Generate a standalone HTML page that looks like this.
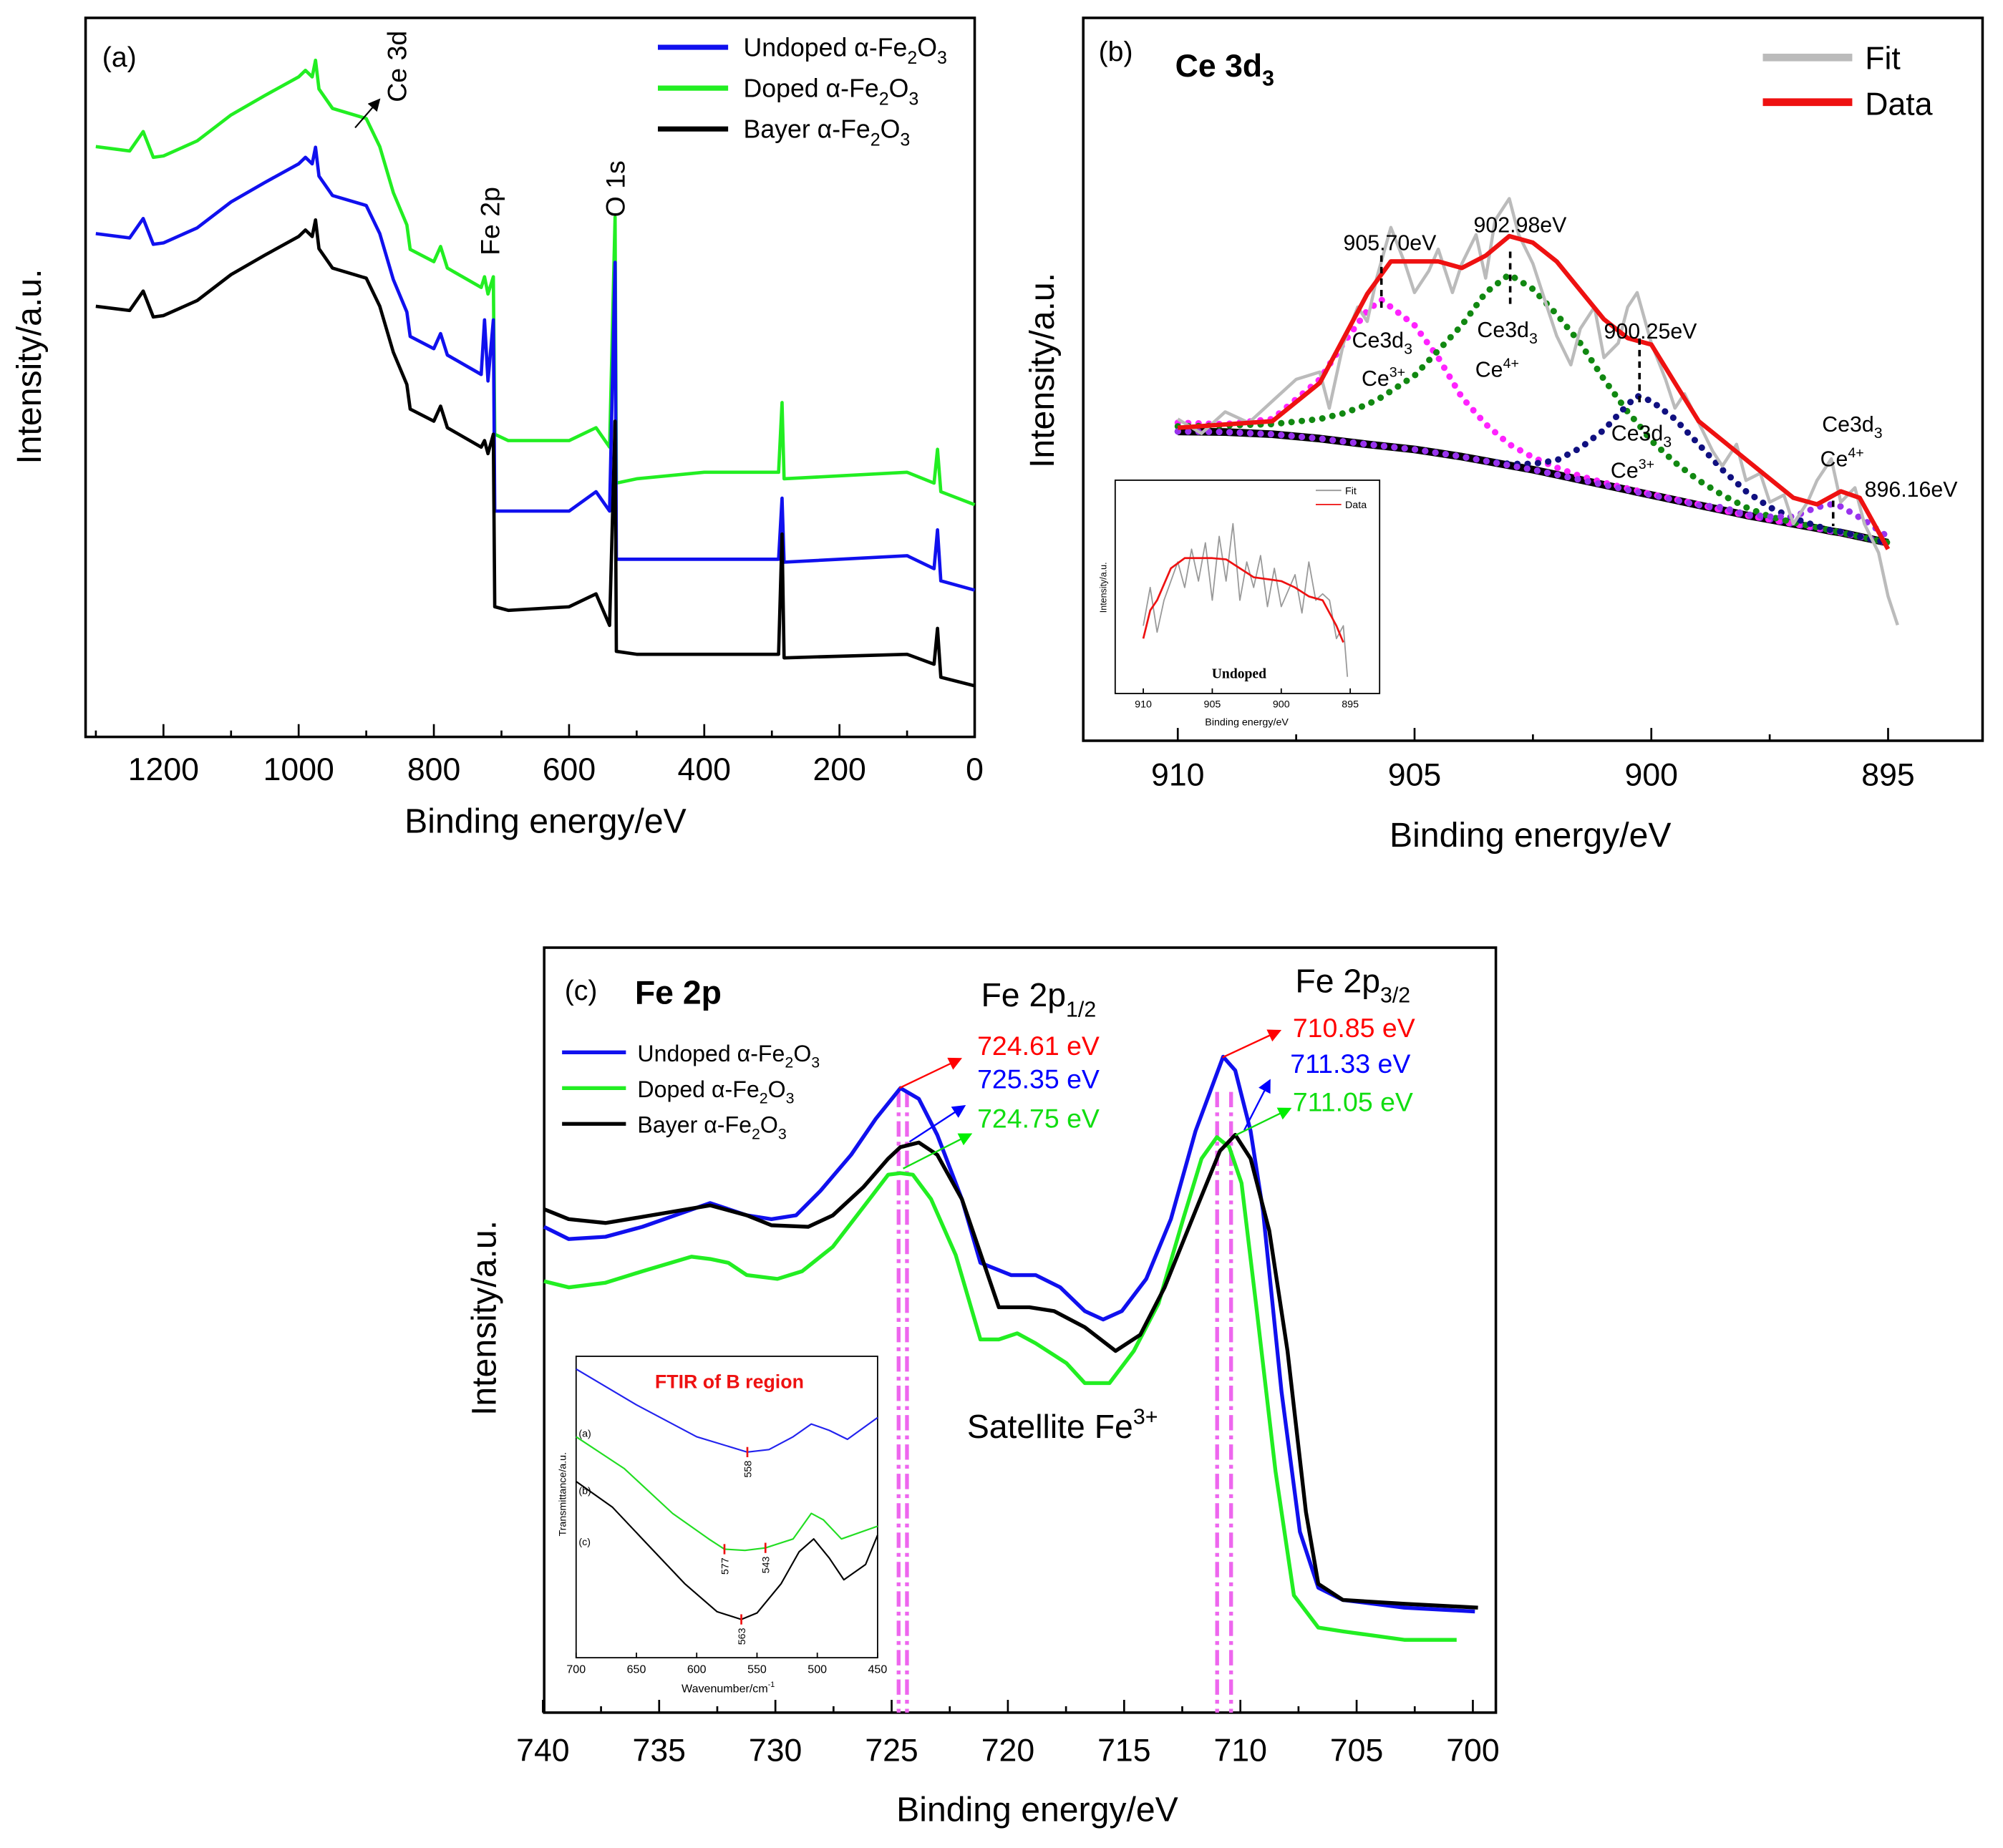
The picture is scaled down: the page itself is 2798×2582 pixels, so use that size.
<!DOCTYPE html>
<html><head><meta charset="utf-8"><style>
html,body{margin:0;padding:0;background:#fff;}
svg{display:block;font-family:"Liberation Sans",Arial,sans-serif;}
</style></head><body>
<svg id="root" width="2798" height="2582" viewBox="0 0 1568 1447" preserveAspectRatio="none" xmlns="http://www.w3.org/2000/svg">
<rect x="0" y="0" width="1568" height="1447" fill="#fff"/>
<defs>
<marker id="arK" markerWidth="8" markerHeight="8" refX="7" refY="4" orient="auto"><path d="M0,0 L8,4 L0,8 z" fill="#000"/></marker>
<marker id="arR" markerWidth="8" markerHeight="8" refX="7" refY="4" orient="auto"><path d="M0,0 L8,4 L0,8 z" fill="#f00"/></marker>
<marker id="arB" markerWidth="8" markerHeight="8" refX="7" refY="4" orient="auto"><path d="M0,0 L8,4 L0,8 z" fill="#00f"/></marker>
<marker id="arG" markerWidth="8" markerHeight="8" refX="7" refY="4" orient="auto"><path d="M0,0 L8,4 L0,8 z" fill="#0e0"/></marker>
</defs>
<g id="panelA"></g>
<g id="panelB"></g>
<g id="panelC"></g>
</svg>
<script>
// ---------- Panel (a) data ----------
const energyA = [1300,1250,1230,1215,1200,1150,1100,1050,1000,990,980,975,970,950,900,880,860,840,835,800,790,780,730,725,720,712,710,690,600,560,540,532,530,500,400,290,285,282,100,60,55,50,0];
const bayerA = [59.9,59.3,62.0,58.4,58.6,60.7,64.3,67.0,69.6,70.5,69.6,71.9,67.9,65.2,63.8,59.9,53.5,49.0,45.6,43.9,46.0,43.0,40.3,41.2,39.4,42.1,18.1,17.6,18.1,19.9,15.5,43.9,11.9,11.5,11.5,11.5,28.2,11.0,11.5,10.1,15.1,8.3,7.1];
const undopedA = [70.0,69.4,72.1,68.5,68.7,70.8,74.4,77.1,79.7,80.6,79.7,82.0,78.0,75.3,73.9,70.0,63.6,59.1,55.7,54.0,56.1,53.1,50.4,58.0,49.5,58.0,31.4,31.4,31.4,34.1,31.4,66.0,24.7,24.7,24.7,24.7,33.2,24.3,25.2,23.4,28.8,21.7,20.4];
const dopedA = [82.1,81.5,84.2,80.6,80.8,82.9,86.5,89.2,91.8,92.7,91.8,94.1,90.1,87.4,86.0,82.1,75.7,71.2,67.8,66.1,68.2,65.2,62.5,64.0,61.6,64.0,42.1,41.2,41.2,43.0,40.3,72.3,35.3,35.9,36.8,36.8,46.5,35.9,36.8,35.3,40.0,34.1,32.3];
const ticksA = [1200,1000,800,600,400,200,0];

// ---------- Panel (b) data ----------
const energyBData = [910,908,907,906,905.5,904.5,904,903.5,903,902.5,902,901,900.5,900,899.5,899,898,897,896.5,896,895.6,895];
const dataB = [43.3,44.2,49.5,61.8,66.3,66.3,65.4,67.1,69.8,68.9,66.3,58.3,55.7,54.8,49.5,44.2,38.9,33.6,32.7,34.5,33.6,26.5];
const energyBFit = [910,909.5,909,908.5,908,907.5,907,906.8,906.5,906.2,906,905.8,905.5,905.2,905,904.7,904.5,904.2,904,903.7,903.5,903.3,903,902.8,902.5,902.2,902,901.7,901.5,901.2,901,900.7,900.5,900.3,900,899.7,899.5,899.3,899,898.7,898.5,898.2,898,897.7,897.5,897.2,897,896.7,896.5,896.2,896,895.7,895.5,895.2,895,894.8];
const fitB = [44.5,42.5,45.5,44,47,50,51,46,55,60,58,64,71,66,62,65,68,62,66,70,64,72,75,70,66,60,56,52,57,60,53,55,60,62,55,50,46,48,44,40,38,41,36,37,33,34,30,33,36,39,33,35,30,26,20,16];
const energyBComp = [910,909,908,907,906.5,906,905.7,905,904.5,904,903.5,903,902.5,902,901.5,901,900.5,900.3,900,899.5,899,898.5,898,897.5,897,896.5,896.2,896,895.5,895];
const backgroundB = [42.8,42.7,42.4,41.8,41.4,41.0,40.8,40.3,39.8,39.3,38.7,38.1,37.5,36.8,36.1,35.4,34.7,34.4,34.0,33.3,32.6,31.9,31.2,30.6,30.0,29.4,29.0,28.8,28.1,27.4];
const ce3PeakB = [44.0,43.8,44.5,50.0,55.0,59.5,61.0,57.5,53.0,47.5,43.8,41.0,39.2,37.8,36.6,35.7,34.9,34.6,34.1,33.4,32.7,31.9,31.2,30.6,30.0,29.4,29.0,28.8,28.1,27.4];
const ce4PeakB = [43.5,43.6,43.8,44.5,45.3,46.5,47.5,50.5,54,57.5,62,64.5,62.5,59,55,50,45.5,44,41.5,38.5,36,34,32.3,31,30.2,29.5,29.1,28.8,28.1,27.4];
const ce3bPeakB = [42.8,42.7,42.4,41.8,41.4,41.0,40.8,40.3,39.8,39.3,38.7,38.3,38.3,38.8,40.5,43,46.5,47.7,47,44.5,41,37.5,34.5,32.3,30.8,29.7,29.1,28.9,28.1,27.4];
const ce4bPeakB = [42.8,42.7,42.4,41.8,41.4,41.0,40.8,40.3,39.8,39.3,38.7,38.1,37.5,36.8,36.1,35.4,34.7,34.4,34.0,33.3,32.6,32.3,31.3,31.0,31.0,32.3,32.7,32.4,30.5,28.2];
const ticksB = [910,905,900,895];
// inset (b)
const energyBiData = [910,909.5,909,908,907,905,904,903,902,900,899,898,897,896.5,896,895.5];
const dataBi = [43,65,73,98,106,106,105,98,91,88,83,76,73,63,53,40];
const energyBiFit = [910,909.5,909,908.5,908,907.5,907,906.5,906,905.5,905,904.5,904,903.5,903,902.5,902,901.5,901,900.5,900,899,898.5,898,897.5,897,896.5,896,895.5,895.2];
const fitBi = [53,83,48,73,88,103,83,113,88,118,73,123,88,133,73,103,83,108,68,98,68,93,63,103,73,78,73,43,53,13];
const ticksBi = [910,905,900,895];

// ---------- Panel (c) data ----------
const energyCU = [739.95,738.89,737.31,735.72,732.81,731.23,730.17,729.11,728.06,726.74,725.68,724.62,723.83,723.04,721.98,721.18,719.86,718.81,717.75,716.69,715.90,715.10,714.05,712.99,711.93,710.74,710.22,709.56,709.03,708.23,707.44,706.65,705.59,702.95,699.91];
const undopedC = [63.4,61.8,62.1,63.4,66.5,64.9,64.4,64.9,68.1,72.8,77.5,81.5,80.1,75.4,67.0,58.7,57.1,57.1,55.5,52.4,51.3,52.4,56.6,64.4,75.9,85.6,83.8,75.9,65.5,41.9,23.6,16.3,14.7,13.7,13.2];
const energyCB = [739.95,738.89,737.31,735.72,732.81,731.23,730.17,728.59,727.53,726.21,725.15,724.62,723.83,723.04,721.98,720.92,720.39,719.07,718.01,716.69,715.37,714.31,713.26,711.93,710.88,710.22,709.56,708.76,707.97,707.18,706.65,705.59,702.95,699.78];
const bayerC = [65.7,64.4,63.9,64.7,66.2,64.9,63.6,63.4,64.9,68.6,72.3,73.8,74.4,72.8,67.0,57.6,52.9,52.9,52.4,50.3,47.2,49.3,55.5,65.5,73.3,75.4,72.3,62.9,47.2,26.2,16.8,14.7,14.2,13.7];
const energyCD = [739.95,738.89,737.31,735.72,733.61,732.81,732.02,731.23,729.91,728.85,727.53,726.21,725.15,724.62,724.09,723.30,722.24,721.18,720.39,719.60,718.81,717.48,716.69,715.63,714.58,713.52,712.46,711.67,711.01,710.48,709.95,709.29,708.49,707.70,706.65,705.59,702.95,700.70];
const dopedC = [56.3,55.5,56.1,57.6,59.5,59.2,58.7,57.1,56.6,57.6,60.8,66.0,70.2,70.4,70.2,67.0,59.7,48.7,48.7,49.5,48.2,45.6,43.0,43.0,47.2,53.4,64.4,72.3,75.1,73.8,69.1,52.4,31.5,15.3,11.1,10.6,9.5,9.5];
const peakLinesC = [724.7,724.34,711.0,710.4];
const ticksC = [740,735,730,725,720,715,710,705,700];
// inset (c) FTIR
const waveU = [700,650,600,558,540,520,505,490,475,450];
const transU = [226,198,173,161,163,173,183,178,171,188];
const waveD = [700,660,620,590,577,560,543,520,505,495,480,450];
const transD = [173,148,113,93,85,84,86,93,113,108,93,103];
const waveB = [700,670,640,610,583,563,550,530,515,503,490,478,460,450];
const transB = [138,118,88,58,36,30,35,58,83,93,78,61,73,96];
const ticksCi = [700,650,600,550,500,450];

// ---------- helpers ----------
const NS = "http://www.w3.org/2000/svg";
function mk(parent, tag, attrs){
  const e = document.createElementNS(NS, tag);
  for (const k in attrs) e.setAttribute(k, attrs[k]);
  parent.appendChild(e);
  return e;
}
function poly(parent, xs, ys, fx, fy, attrs){
  const pts = xs.map((x,i)=>fx(x).toFixed(1)+","+fy(ys[i]).toFixed(1)).join(" ");
  return mk(parent, "polyline", Object.assign({points:pts, fill:"none", "stroke-linejoin":"round"}, attrs));
}
function txt(parent, x, y, s, attrs){
  const t = mk(parent, "text", Object.assign({x:x, y:y}, attrs||{}));
  t.innerHTML = s;
  return t;
}

// ================= Panel A =================
const A = document.getElementById("panelA");
const xA = e => 763 - e*0.5292;
const yA = v => 577 - v*5.63;
let r = mk(A,"rect",{x:67,y:14,width:696,height:563,fill:"none",stroke:"#000","stroke-width":2});


for (let e=1300; e>=0; e-=100){
  const tk = mk(A,"line",{x1:xA(e),x2:xA(e),y1:577,y2:e%200===0?567:572,stroke:"#000","stroke-width":1.5});
  
  
}
ticksA.forEach(e=>{
  const t = txt(A,xA(e),611,e,{"font-size":25,"text-anchor":"middle"});
  
  
});
let t;
t = txt(A,427,652,"Binding energy/eV",{"font-size":27,"text-anchor":"middle"});
 
t = txt(A,0,0,"Intensity/a.u.",{"font-size":27,"text-anchor":"middle",transform:"translate(32,287) rotate(-90)"});
 
let s;
s = poly(A,energyA,dopedA,xA,yA,{stroke:"#22ee22","stroke-width":2.6});
 
s = poly(A,energyA,undopedA,xA,yA,{stroke:"#1010ee","stroke-width":2.6});
 
s = poly(A,energyA,bayerA,xA,yA,{stroke:"#000","stroke-width":2.6});
 
t = txt(A,80,52,"(a)",{"font-size":22});
 
const legA = [["#1010ee","Undoped α-Fe<tspan font-size='14' dy='6'>2</tspan><tspan dy='-6'>O</tspan><tspan font-size='14' dy='6'>3</tspan>"],["#22ee22","Doped α-Fe<tspan font-size='14' dy='6'>2</tspan><tspan dy='-6'>O</tspan><tspan font-size='14' dy='6'>3</tspan>"],["#000","Bayer α-Fe<tspan font-size='14' dy='6'>2</tspan><tspan dy='-6'>O</tspan><tspan font-size='14' dy='6'>3</tspan>"]];
legA.forEach((l,i)=>{
  const ln = mk(A,"line",{x1:515,x2:570,y1:37+i*32,y2:37+i*32,stroke:l[0],"stroke-width":4});
   
  const lt = txt(A,582,44+i*32,l[1],{"font-size":20});
   
});
let ar = mk(A,"line",{x1:278,y1:100,x2:297,y2:78,stroke:"#000","stroke-width":1.2,"marker-end":"url(#arK)"});
 
t = txt(A,0,0,"Ce 3d",{"font-size":21,transform:"translate(318,80) rotate(-90)"});
 
t = txt(A,0,0,"Fe 2p",{"font-size":21,transform:"translate(391,200) rotate(-90)"});
 
t = txt(A,0,0,"O 1s",{"font-size":21,transform:"translate(489,170) rotate(-90)"});
 

// ================= Panel B =================
const B = document.getElementById("panelB");
const xB = e => 922 + (910-e)*37.07;
const yB = v => 580 - v*5.66;
r = mk(B,"rect",{x:848,y:14,width:704,height:566,fill:"none",stroke:"#000","stroke-width":2});
 
for (let e=912.5; e>=892.5; e-=2.5){
  const xx = xB(e); if (xx<848||xx>1552) continue;
  const tk = mk(B,"line",{x1:xx,x2:xx,y1:580,y2:(e%5===0)?570:575,stroke:"#000","stroke-width":1.5});
   
}
ticksB.forEach(e=>{
  const tt = txt(B,xB(e),615,e,{"font-size":25,"text-anchor":"middle"});
   
});
t = txt(B,1198,663,"Binding energy/eV",{"font-size":27,"text-anchor":"middle"});
 
t = txt(B,0,0,"Intensity/a.u.",{"font-size":27,"text-anchor":"middle",transform:"translate(825,290) rotate(-90)"});
 
const dotted = {"stroke-width":5,"stroke-linecap":"round","stroke-dasharray":"0.1 8"};
s = poly(B,energyBComp,backgroundB,xB,yB,{stroke:"#000","stroke-width":6});
 
s = poly(B,energyBComp,backgroundB,xB,yB,Object.assign({stroke:"#8a2be2"},dotted));
 
s = poly(B,energyBComp,ce3PeakB,xB,yB,Object.assign({stroke:"#ff22ff"},dotted));
 
s = poly(B,energyBComp,ce4PeakB,xB,yB,Object.assign({stroke:"#118811"},dotted));
 
s = poly(B,energyBComp,ce3bPeakB,xB,yB,Object.assign({stroke:"#101080"},dotted));
 
s = poly(B,energyBComp,ce4bPeakB,xB,yB,Object.assign({stroke:"#9933ee"},dotted));
 
s = poly(B,energyBFit,fitB,xB,yB,{stroke:"#bbbbbb","stroke-width":2.5});
 
s = poly(B,energyBData,dataB,xB,yB,{stroke:"#ee1111","stroke-width":3.5});
 
t = txt(B,860,48,"(b)",{"font-size":22});
 
t = txt(B,920,60,"Ce 3d<tspan font-size='17' dy='7'>3</tspan>",{"font-size":25,"font-weight":"bold"});
 
let ln;
ln = mk(B,"line",{x1:1380,x2:1450,y1:45,y2:45,stroke:"#bbbbbb","stroke-width":6});
 
t = txt(B,1460,54,"Fit",{"font-size":25});
 
ln = mk(B,"line",{x1:1380,x2:1450,y1:80,y2:80,stroke:"#ee1111","stroke-width":6});
 
t = txt(B,1460,90,"Data",{"font-size":25});
 
const annB = [[905.70,"905.70eV",1088,196,200,245,1082,272,1083,302,"3+"],[902.98,"902.98eV",1190,182,197,242,1180,264,1172,295,"4+"],[900.25,"900.25eV",1292,265,265,318,1285,345,1278,374,"3+"],[896.16,"896.16eV",1496,389,392,412,1450,338,1442,365,"4+"]];
annB.forEach(a=>{
  const d = mk(B,"line",{x1:xB(a[0]),x2:xB(a[0]),y1:a[4],y2:a[5],stroke:"#000","stroke-width":2,"stroke-dasharray":"5 4"});
   
  const l1 = txt(B,a[2],a[3],a[1],{"font-size":17,"text-anchor":"middle"});
   
  const l2 = txt(B,a[6],a[7],"Ce3d<tspan font-size='12' dy='5'>3</tspan>",{"font-size":17,"text-anchor":"middle"});
   
  const l3 = txt(B,a[8],a[9],"Ce<tspan font-size='11' dy='-7'>"+a[10]+"</tspan>",{"font-size":17,"text-anchor":"middle"});
   
});
// inset B
const xBi = e => 895 + (910-e)*10.8;
const yBi = v => 543 - v;
r = mk(B,"rect",{x:873,y:376,width:207,height:167,fill:"#fff",stroke:"#000","stroke-width":1});
 
ticksBi.forEach(e=>{
  const tk = mk(B,"line",{x1:xBi(e),x2:xBi(e),y1:543,y2:539,stroke:"#000","stroke-width":1});
   
  const tt = txt(B,xBi(e),554,e,{"font-size":8,"text-anchor":"middle"});
   
});
t = txt(B,976,568,"Binding energy/eV",{"font-size":8,"text-anchor":"middle"});
 
t = txt(B,0,0,"Intensity/a.u.",{"font-size":7,"text-anchor":"middle",transform:"translate(866,460) rotate(-90)"});
 
s = poly(B,energyBiFit,fitBi,xBi,yBi,{stroke:"#999","stroke-width":1});
 
s = poly(B,energyBiData,dataBi,xBi,yBi,{stroke:"#e11","stroke-width":1.5});
 
ln = mk(B,"line",{x1:1030,x2:1050,y1:384,y2:384,stroke:"#999","stroke-width":1});
 
t = txt(B,1053,387,"Fit",{"font-size":8});  
ln = mk(B,"line",{x1:1030,x2:1050,y1:395,y2:395,stroke:"#e11","stroke-width":1});
 
t = txt(B,1053,398,"Data",{"font-size":8});  
t = txt(B,970,531,"Undoped",{"font-size":11,"font-weight":"bold","text-anchor":"middle","font-family":"Liberation Serif, serif"});
 

// ================= Panel C =================
const C = document.getElementById("panelC");
const xC = e => 425 + (740-e)*18.2;
const yC = v => 1341 - v*6;
r = mk(C,"rect",{x:426,y:742,width:745,height:599,fill:"none",stroke:"#000","stroke-width":2});
 
for (let e=740; e>=700; e-=2.5){
  const tk = mk(C,"line",{x1:xC(e),x2:xC(e),y1:1341,y2:(e%5===0)?1331:1336,stroke:"#000","stroke-width":1.5});
   
}
ticksC.forEach(e=>{
  const tt = txt(C,xC(e),1379,e,{"font-size":25,"text-anchor":"middle"});
   
});
t = txt(C,812,1426,"Binding energy/eV",{"font-size":27,"text-anchor":"middle"});
 
t = txt(C,0,0,"Intensity/a.u.",{"font-size":27,"text-anchor":"middle",transform:"translate(388,1032) rotate(-90)"});
 
peakLinesC.forEach(e=>{
  const pl = mk(C,"line",{x1:xC(e),x2:xC(e),y1:855,y2:1341,stroke:"#ee66ee","stroke-width":3,"stroke-dasharray":"12 4 3 4"});
   
});
s = poly(C,energyCD,dopedC,xC,yC,{stroke:"#22ee22","stroke-width":3});
 
s = poly(C,energyCU,undopedC,xC,yC,{stroke:"#1010ee","stroke-width":3});
 
s = poly(C,energyCB,bayerC,xC,yC,{stroke:"#000","stroke-width":3});
 
t = txt(C,442,783,"(c)",{"font-size":22});  
t = txt(C,497,786,"Fe 2p",{"font-size":26,"font-weight":"bold"});  
t = txt(C,768,788,"Fe 2p<tspan font-size='17' dy='8'>1/2</tspan>",{"font-size":26});  
t = txt(C,1014,777,"Fe 2p<tspan font-size='17' dy='8'>3/2</tspan>",{"font-size":26});  
const annC = [["#ff0000","724.61 eV",765,826,"arR",704,852,752,829],["#0000ff","725.35 eV",765,852,"arB",712,894,755,866],["#11dd11","724.75 eV",765,883,"arG",707,915,760,888],
  ["#ff0000","710.85 eV",1012,812,"arR",957,828,1002,807],["#0000ff","711.33 eV",1010,840,"arB",974,885,994,846],["#11dd11","711.05 eV",1012,870,"arG",967,889,1010,868]];
annC.forEach(a=>{
  const aa = mk(C,"line",{x1:a[5],y1:a[6],x2:a[7],y2:a[8],stroke:a[0],"stroke-width":1.3,"marker-end":"url(#"+a[4]+")"});
   
  const tt = txt(C,a[2],a[3],a[1],{"font-size":21,fill:a[0]});
   
});
t = txt(C,757,1126,"Satellite Fe<tspan font-size='17' dy='-11'>3+</tspan>",{"font-size":26});
 
const legC = [["#1010ee","Undoped α-Fe"],["#22ee22","Doped α-Fe"],["#000","Bayer α-Fe"]];
legC.forEach((l,i)=>{
  const ll = mk(C,"line",{x1:440,x2:490,y1:824+i*28,y2:824+i*28,stroke:l[0],"stroke-width":3});
   
  const lt = txt(C,499,831+i*28,l[1]+"<tspan font-size='12' dy='5'>2</tspan><tspan dy='-5'>O</tspan><tspan font-size='12' dy='5'>3</tspan>",{"font-size":18});
   
});
// inset C
const xCi = w => 451 + (700-w)*0.944;
const yCi = v => 1298 - v;
r = mk(C,"rect",{x:451,y:1062,width:236,height:236,fill:"#fff",stroke:"#000","stroke-width":1});
 
ticksCi.forEach(w=>{
  const tk = mk(C,"line",{x1:xCi(w),x2:xCi(w),y1:1298,y2:1294,stroke:"#000","stroke-width":1});
   
  const tt = txt(C,xCi(w),1310,w,{"font-size":9,"text-anchor":"middle"});
   
});
t = txt(C,570,1325,"Wavenumber/cm<tspan font-size='6' dy='-4'>-1</tspan>",{"font-size":9,"text-anchor":"middle"});
 
t = txt(C,0,0,"Transmittance/a.u.",{"font-size":8,"text-anchor":"middle",transform:"translate(443,1170) rotate(-90)"});
 
t = txt(C,571,1087,"FTIR of B region",{"font-size":15,"font-weight":"bold",fill:"#ee1111","text-anchor":"middle"});
 
s = poly(C,waveU,transU,xCi,yCi,{stroke:"#2222ee","stroke-width":1.2});  
s = poly(C,waveD,transD,xCi,yCi,{stroke:"#22dd22","stroke-width":1.2});  
s = poly(C,waveB,transB,xCi,yCi,{stroke:"#000","stroke-width":1.2});  
[["(a)",1125],["(b)",1170],["(c)",1210]].forEach(l=>{
  const tt = txt(C,453,l[1],l[0],{"font-size":8});
   
});
[[558,161,"558"],[577,85,"577"],[543,86,"543"],[563,30,"563"]].forEach(m=>{
  const mm = mk(C,"line",{x1:xCi(m[0]),x2:xCi(m[0]),y1:yCi(m[1])-4,y2:yCi(m[1])+4,stroke:"#e11","stroke-width":1.5});
   
  const tt = txt(C,0,0,m[2],{"font-size":8,transform:"translate("+(xCi(m[0])+3)+","+(yCi(m[1])+20)+") rotate(-90)"});
   
});
</script>
</body></html>
